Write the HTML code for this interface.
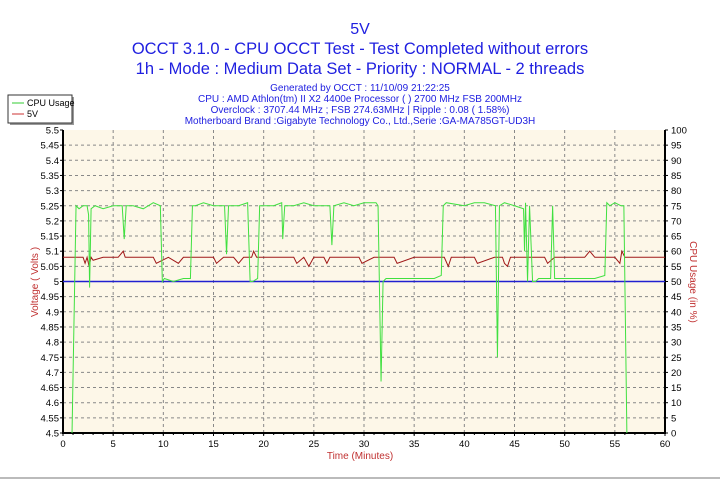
<!DOCTYPE html>
<html><head><meta charset="utf-8"><style>
body{margin:0;background:#fff;width:720px;height:480px;overflow:hidden;font-family:"Liberation Sans",sans-serif}
svg{display:block}
</style></head><body>
<svg id="c" width="720" height="480" xmlns="http://www.w3.org/2000/svg">
<line x1="0" y1="478" x2="720" y2="478" stroke="#bbb" stroke-width="2"/>
<text x="360" y="34" text-anchor="middle" font-size="16" fill="#2020e0">5V</text>
<text x="360" y="54" text-anchor="middle" font-size="16.5" fill="#2020e0">OCCT 3.1.0 - CPU OCCT Test - Test Completed without errors</text>
<text x="360" y="74" text-anchor="middle" font-size="16.5" fill="#2020e0">1h - Mode : Medium Data Set - Priority : NORMAL - 2 threads</text>
<g font-size="10" fill="#2020e0" text-anchor="middle">
<text x="360" y="91">Generated by OCCT : 11/10/09 21:22:25</text>
<text x="360" y="102">CPU : AMD Athlon(tm) II X2 4400e Processor (  ) 2700 MHz FSB 200MHz</text>
<text x="360" y="113">Overclock : 3707.44 MHz ; FSB 274.63MHz | Ripple : 0.08 ( 1.58%)</text>
<text x="360" y="124">Motherboard Brand :Gigabyte Technology Co., Ltd.,Serie :GA-MA785GT-UD3H</text>
</g>
<g>
<rect x="10" y="97" width="64" height="28" fill="#999"/>
<rect x="8" y="95" width="64" height="28" fill="#fff" stroke="#333" stroke-width="1"/>
<line x1="12" y1="103" x2="24" y2="103" stroke="#3c3"/>
<text x="27" y="106" font-size="9" fill="#000">CPU Usage</text>
<line x1="12" y1="114" x2="24" y2="114" stroke="#c33"/>
<text x="27" y="117" font-size="9" fill="#000">5V</text>
</g>
<rect x="63" y="130" width="602" height="303" fill="#fdf7e8"/>
<g id="grid"></g><g id="axes"></g><g id="series"></g>
<text x="360" y="459" text-anchor="middle" font-size="10" fill="#c03030">Time (Minutes)</text>
<text transform="translate(38,282) rotate(-90)" text-anchor="middle" font-size="10" fill="#c03030">Voltage ( Volts )</text>
<text transform="translate(690,282) rotate(90)" text-anchor="middle" font-size="10" fill="#c03030">CPU Usage (in %)</text>
</svg>
<script>
const xTicks=[0,5,10,15,20,25,30,35,40,45,50,55,60];
const vTicks=[4.5,4.55,4.6,4.65,4.7,4.75,4.8,4.85,4.9,4.95,5,5.05,5.1,5.15,5.2,5.25,5.3,5.35,5.4,5.45,5.5];
const pTicks=[0,5,10,15,20,25,30,35,40,45,50,55,60,65,70,75,80,85,90,95,100];
const cpuTime=[0.9,1.3,1.6,2.0,2.4,2.55,2.65,2.8,3.2,4,5,5.9,6.1,6.3,7,8,9,9.7,9.9,10.1,11,12,12.7,12.9,13.2,14,15,16.1,16.3,16.5,17.5,18.4,18.65,18.9,19.4,19.6,19.9,21,21.8,21.9,22.1,23,24,25,26.6,26.8,27,28,29,30,31.2,31.4,31.7,31.9,32.2,33,35,37,37.7,37.9,38.2,40,41,42,43.1,43.3,43.5,44,45,45.9,46,46.1,46.3,46.5,46.8,47.1,47.4,48,48.6,48.8,49,49.3,50,51,52,53,54,54.2,54.5,55,55.6,55.9,56.2];
const cpuVal=[0,75,74,75,75,72,48,74,75,74,75,75,64,75,75,74,76,75,50,51,50,51,51,75,75,76,75,75,59,75,75,76,50,50,51,75,75,75,76,64,75,75,76,75,75,62,75,76,75,76,76,75,17,50,51,51,51,51,52,75,76,75,76,76,75,25,75,76,75,74,60,76,50,75,50,50,51,51,51,75,51,51,51,51,51,51,52,76,75,76,75,75,0];
const vTime=[0,2,2.2,2.4,2.6,2.8,3,4,5.5,6,6.2,6.5,9,9.3,10.5,11,11.5,12,13,15,15.3,16,17,17.5,18,18.8,19,19.3,20,23,23.3,24,24.5,25,26,26.3,26.6,28,29.5,29.8,31,33,33.3,35,37,38,38.4,38.7,40,41,41.3,43,43.8,44,44.3,44.6,45,46,48,48.3,49,50,52,52.5,53,55,55.5,55.7,56,57,60];
const vVal=[5.08,5.08,5.06,5.08,5.05,5.08,5.07,5.08,5.08,5.10,5.08,5.08,5.08,5.06,5.08,5.07,5.06,5.08,5.08,5.08,5.06,5.08,5.08,5.06,5.08,5.08,5.10,5.08,5.08,5.08,5.06,5.08,5.05,5.08,5.08,5.06,5.08,5.08,5.08,5.06,5.08,5.08,5.06,5.08,5.08,5.08,5.05,5.08,5.08,5.08,5.06,5.08,5.08,5.06,5.05,5.08,5.08,5.08,5.08,5.06,5.08,5.08,5.08,5.10,5.08,5.08,5.06,5.10,5.08,5.08,5.08];
const blueV=5.0;
const L=63,R=665,T=130,B=433;
const xs=t=>L+(t/60)*(R-L);
const yv=v=>B-(v-4.5)/1*(B-T);
const yp=p=>B-(p/100)*(B-T);
const NS="http://www.w3.org/2000/svg";
function mk(tag,attrs,parent,text){const e=document.createElementNS(NS,tag);for(const k in attrs)e.setAttribute(k,attrs[k]);if(text!==undefined)e.textContent=text;parent.appendChild(e);return e;}
const grid=document.getElementById('grid'),axes=document.getElementById('axes'),ser=document.getElementById('series');
vTicks.forEach((v,i)=>{const y=yv(v);
 if(i>0&&i<vTicks.length-1){const g=mk('line',{x1:L,x2:R,y1:y,y2:y,stroke:'#888','stroke-dasharray':'3,3'},grid);
 
 }
 const t=mk('text',{x:L-4,y:y+3.5,'text-anchor':'end','font-size':'9.5',fill:'#000'},axes,String(v));
 
 
 mk('line',{x1:L-3,x2:L,y1:y,y2:y,stroke:'#000'},axes);});
pTicks.forEach(p=>{const y=yp(p);
 const t=mk('text',{x:R+6,y:y+3.5,'font-size':'9.5',fill:'#000'},axes,String(p));
 
 
 mk('line',{x1:R,x2:R+3,y1:y,y2:y,stroke:'#000'},axes);});
xTicks.forEach((v,i)=>{const x=xs(v);
 if(i>0&&i<xTicks.length-1){const g=mk('line',{x1:x,x2:x,y1:T,y2:B,stroke:'#888','stroke-dasharray':'3,3'},grid);
 
 }
 const t=mk('text',{x:x,y:B+14,'text-anchor':'middle','font-size':'9.5',fill:'#000'},axes,String(v));
 
 
 mk('line',{x1:x,x2:x,y1:B,y2:B+3,stroke:'#000'},axes);});
for(let m=0;m<=60;m++){const x=xs(m);mk('line',{x1:x,x2:x,y1:B,y2:B+2,stroke:'#000'},axes);}
const ax=mk('path',{d:`M${L},${T}V${B}H${R}V${T}`,fill:'none',stroke:'#000','stroke-width':2},axes);


const bl=mk('line',{x1:L,x2:R,y1:yv(blueV),y2:yv(blueV),stroke:'#2020d0','stroke-width':1.5},ser);


const rp=mk('polyline',{points:vTime.map((t,i)=>xs(t)+','+yv(vVal[i])).join(' '),fill:'none',stroke:'#a01818','stroke-width':1},ser);


const gp=mk('polyline',{points:cpuTime.map((t,i)=>xs(t)+','+yp(cpuVal[i])).join(' '),fill:'none',stroke:'#40e040','stroke-width':1},ser);


</script>
</body></html>
